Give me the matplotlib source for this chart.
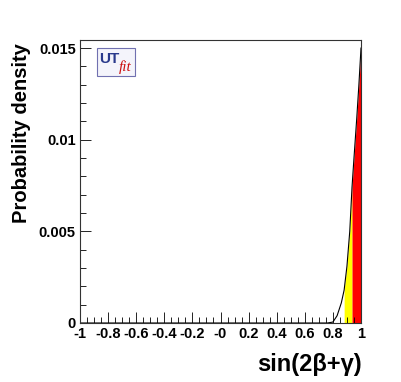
import numpy as np
import matplotlib.pyplot as plt
from matplotlib.ticker import MultipleLocator
from matplotlib.patches import FancyBboxPatch

# densita' di probabilita'
x_vals = [-1.0, 0.76, 0.80, 0.83, 0.86, 0.88, 0.90, 0.92, 0.936, 0.95, 0.97, 0.985, 1.0]
p_vals = [0.0, 0.0, 0.00005, 0.0004, 0.0011, 0.0018, 0.0031, 0.0050, 0.0074, 0.0090, 0.0112, 0.0130, 0.0150]
yellow_lo = 0.88
red_lo = 0.936

x = np.array(x_vals)
p = np.array(p_vals)

plt.rcParams['font.family'] = ['Liberation Sans', 'DejaVu Sans']
fig = plt.figure(figsize=(4.01, 3.82), dpi=100)
ax = fig.add_axes([80 / 401, 59 / 382, 281 / 401, 283 / 382])

ax.fill_between(x, 0, p, where=(x >= yellow_lo) & (x <= red_lo), color='#ffff00', lw=0)
ax.fill_between(x, 0, p, where=(x >= red_lo), color='#ff0000', lw=0)
ax.plot(x, p, color='black', lw=0.8)

ax.set_xlim(-1, 1)
ax.set_ylim(0, 0.01544)
ax.xaxis.set_minor_locator(MultipleLocator(0.05))
ax.yaxis.set_minor_locator(MultipleLocator(0.001))
ticks_x = [-1, -0.8, -0.6, -0.4, -0.2, 0, 0.2, 0.4, 0.6, 0.8, 1]
labels_x = ['-1', '-0.8', '-0.6', '-0.4', '-0.2', '-0', '0.2', '0.4', '0.6', '0.8', '1']
ax.set_xticks(ticks_x)
ax.set_xticklabels(labels_x, fontweight='bold', fontsize=10.5)
ax.set_yticks([0, 0.005, 0.01, 0.015])
ax.set_yticklabels(['0', '0.005', '0.01', '0.015'], fontweight='bold', fontsize=10.5)
ax.tick_params(axis='x', which='major', pad=3)
ax.tick_params(axis='y', which='major', pad=3)
ax.tick_params(which='major', direction='in', length=8, width=0.6, top=False, right=False)
ax.tick_params(which='minor', direction='in', length=4, width=0.6, top=False, right=False)
for s in ax.spines.values():
    s.set_linewidth(0.8)
    s.set_color('#333333')

fig.text(22 / 401, 1 - 133 / 382, 'Probability density', rotation=90, fontsize=14.5,
         fontweight='bold', ha='center', va='center')
fig.text(362 / 401, 1 - 364 / 382, 'sin(2\u03b2+\u03b3)', fontsize=17,
         fontweight='bold', ha='right', va='center')

# logo UTfit
box = FancyBboxPatch((97 / 401, 1 - 76 / 382), 38 / 401, 28 / 382,
                     boxstyle='square,pad=0', transform=fig.transFigure,
                     facecolor='#f4f4fb', edgecolor='#7070b0', lw=0.8)
fig.patches.append(box)
fig.text(99 / 401, 1 - 59 / 382, 'UT', fontsize=11, fontweight='bold', color='#2a3a8c',
         ha='left', va='center')
fig.text(119 / 401, 1 - 67 / 382, 'fit', fontsize=11, style='italic', color='#cc1010',
         family='Liberation Serif', ha='left', va='center')

plt.savefig('out.png', dpi=100)
